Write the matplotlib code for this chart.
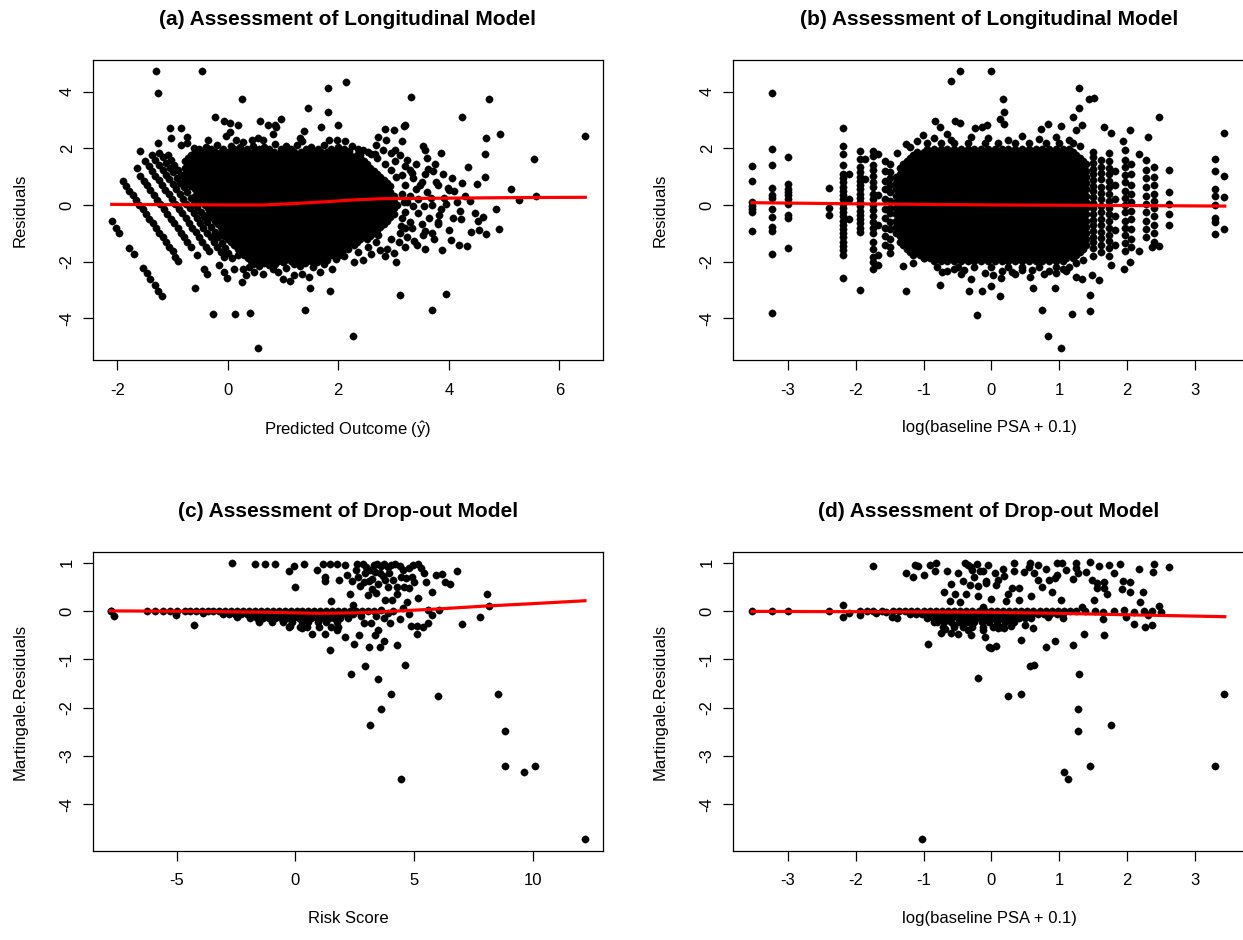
import numpy as np
import matplotlib.pyplot as plt

plt.rcParams['font.family'] = ['Liberation Sans', 'DejaVu Sans']
plt.rcParams['mathtext.fontset'] = 'custom'
plt.rcParams['mathtext.rm'] = 'Liberation Sans'
plt.rcParams['axes.unicode_minus'] = False

# ---------------- panel (a): residuals vs predicted outcome ----------------
a_grid_1 = [-0.78, -0.66, -0.54, -0.42, -0.30, -0.18, -0.06, 0.06, 0.18, 0.30, 0.42, 0.54, 0.66,
            0.78, 0.90, 1.02, 1.14, 1.26, 1.38, 1.50, 1.62, 1.74, 1.86, 1.98, 2.10, 2.22, 2.34,
            2.46, 2.58, 2.70, 2.82, 2.94, 3.06]
a_grid_2 = [-0.72, -0.60, -0.48, -0.36, -0.24, -0.12, 0.00, 0.12, 0.24, 0.36, 0.48, 0.60, 0.72,
            0.84, 0.96, 1.08, 1.20, 1.32, 1.44, 1.56, 1.68, 1.80, 1.92, 2.04, 2.16, 2.28, 2.40,
            2.52, 2.64, 2.76, 2.88, 3.00]
# dense core rows: (residual, grid, x from, x to)
a_core = [
    (1.87, 2, -0.60, 2.16), (1.76, 1, -0.66, 2.34), (1.65, 2, -0.72, 2.40), (1.54, 1, -0.78, 2.46),
    (1.43, 2, -0.72, 2.52), (1.32, 1, -0.78, 2.58), (1.21, 2, -0.72, 2.64), (1.10, 1, -0.78, 2.70),
    (0.99, 2, -0.72, 2.76), (0.88, 1, -0.78, 2.82), (0.77, 2, -0.72, 2.88), (0.66, 1, -0.66, 2.94),
    (0.55, 2, -0.60, 2.88), (0.44, 1, -0.54, 2.94), (0.33, 2, -0.60, 3.00), (0.22, 1, -0.54, 2.94),
    (0.11, 2, -0.48, 3.00), (0.00, 1, -0.42, 3.06), (-0.11, 2, -0.36, 3.00), (-0.22, 1, -0.30, 2.94),
    (-0.33, 2, -0.36, 3.00), (-0.44, 1, -0.30, 2.94), (-0.55, 2, -0.24, 2.88), (-0.66, 1, -0.18, 2.82),
    (-0.77, 2, -0.12, 2.76), (-0.88, 1, -0.06, 2.70), (-0.99, 2, -0.12, 2.64), (-1.10, 1, -0.06, 2.58),
    (-1.21, 2, 0.00, 2.52), (-1.32, 1, 0.06, 2.34), (-1.43, 2, 0.12, 2.28), (-1.54, 1, 0.18, 2.10),
    (-1.65, 2, 0.24, 2.04), (-1.76, 1, 0.18, 1.86), (-1.87, 2, 0.36, 1.68), (-1.98, 1, 0.42, 1.50),
]
# diagonal streaks at low predicted values
a_streaks = [
    (-2.10, -0.57), (-2.03, -0.81), (-1.96, -0.99), (-1.78, -1.53), (-1.70, -1.75), (-1.53, -2.22),
    (-1.47, -2.39), (-1.40, -2.60), (-1.32, -2.83), (-1.26, -3.03), (-1.19, -3.22),
    (-1.90, 0.84), (-1.84, 0.67), (-1.78, 0.51), (-1.72, 0.34), (-1.66, 0.18), (-1.60, 0.01),
    (-1.54, -0.15), (-1.48, -0.32), (-1.42, -0.48), (-1.36, -0.65), (-1.30, -0.81), (-1.24, -0.98),
    (-1.18, -1.15), (-1.12, -1.31), (-1.06, -1.48), (-1.00, -1.64), (-0.95, -1.85), (-0.90, -1.99),
    (-1.58, 1.03), (-1.52, 0.86), (-1.46, 0.69), (-1.40, 0.53), (-1.34, 0.36), (-1.28, 0.19),
    (-1.22, 0.03), (-1.16, -0.14), (-1.10, -0.31), (-1.03, -0.48), (-0.97, -0.64), (-0.91, -0.81),
    (-0.85, -0.98), (-0.79, -1.15), (-0.73, -1.31), (-0.67, -1.48), (-0.56, -1.78), (-0.43, -2.25),
    (-0.37, -2.43),
    (-1.49, 1.54), (-1.43, 1.37), (-1.37, 1.21), (-1.31, 1.04), (-1.25, 0.87), (-1.19, 0.70),
    (-1.13, 0.54), (-1.07, 0.37), (-1.01, 0.20), (-0.95, 0.04), (-0.89, -0.13), (-0.82, -0.30),
    (-0.76, -0.47), (-0.70, -0.63), (-0.64, -0.80), (-0.58, -0.97), (-0.52, -1.14), (-0.46, -1.30),
    (-0.40, -1.47), (-0.34, -1.64), (-0.16, -2.13), (-0.07, -2.37), (-0.01, -2.58),
    (-1.37, 1.76), (-1.31, 1.59), (-1.24, 1.42), (-1.18, 1.25), (-1.12, 1.07), (-1.06, 0.90),
    (-0.99, 0.73), (-0.93, 0.56), (-0.87, 0.39), (-0.81, 0.22), (-0.75, 0.05), (-0.69, -0.12),
    (-0.62, -0.30), (-0.56, -0.47), (-0.50, -0.64), (-0.44, -0.81), (-0.38, -0.98), (-0.31, -1.15),
    (-0.25, -1.32), (-0.19, -1.49), (-0.13, -1.66), (-0.07, -1.84), (0.11, -2.25), (0.25, -2.72),
    (-1.24, 1.85), (-1.18, 1.68), (-1.11, 1.50), (-1.05, 1.32), (-0.99, 1.15), (-0.92, 0.97),
    (-0.86, 0.79), (-0.80, 0.62), (-0.73, 0.44), (-0.67, 0.26), (-0.61, 0.09), (-0.55, -0.09),
    (-0.49, -0.26), (-0.43, -0.44), (-0.37, -0.61), (-0.30, -0.79), (-0.24, -0.97), (-0.18, -1.15),
    (-0.11, -1.33), (-0.05, -1.51), (0.01, -1.69), (0.08, -1.87),
    (-1.09, 1.76), (-1.03, 1.59), (-0.97, 1.42), (-0.91, 1.25), (-0.84, 1.07), (-0.78, 0.90),
]
a_scatter = [
    (-1.30, 4.74), (-0.47, 4.72), (-1.27, 3.96), (0.25, 3.76), (1.82, 4.15), (2.14, 4.36), (1.46, 3.42),
    (1.82, 3.28), (1.99, 2.82), (-0.24, 3.12), (-0.06, 2.98), (0.04, 2.90), (0.19, 2.84), (0.59, 2.97),
    (0.72, 2.82), (0.97, 3.05), (0.86, 2.82), (-1.04, 2.73), (-0.85, 2.73), (-1.26, 2.19), (-1.58, 1.91),
    (-1.64, 1.29), (-1.03, 2.36), (-0.73, 2.41), (-0.61, 2.00), (-0.84, 2.11), (-0.73, 2.20),
    (-0.04, 2.42), (0.04, 2.58), (0.27, 2.22), (0.44, 2.28), (0.63, 2.28), (0.81, 2.51), (0.87, 2.75),
    (1.31, 2.35), (1.38, 2.61), (1.68, 2.76), (1.83, 2.28), (1.98, 2.28), (2.13, 2.25), (2.35, 1.99),
    (2.53, 1.87), (2.66, 1.80), (2.68, 2.11), (2.71, 2.40),
    (-0.52, 1.98), (-0.30, 1.98), (-0.08, 1.98), (0.12, 1.98), (0.34, 1.98), (0.57, 1.98), (0.75, 1.98),
    (0.96, 1.98), (1.14, 1.98), (1.41, 1.98), (1.63, 1.98), (1.87, 1.98), (2.11, 1.98), (2.40, 1.76),
    (-0.40, 2.05), (-0.20, 2.12), (0.05, 2.08), (0.22, 2.05), (0.46, 2.10), (0.66, 2.04), (0.85, 2.15),
    (1.05, 2.08), (1.25, 2.12), (1.50, 2.06), (1.75, 2.12), (2.00, 2.05), (2.25, 2.10), (2.45, 1.95),
    (1.35, 2.25), (0.55, 2.38), (0.15, 2.30), (-0.35, 2.30), (2.20, 1.92),
    (0.45, -2.08), (0.65, -2.05), (0.85, -2.10), (1.00, -2.02), (1.20, -2.08), (1.40, -2.04),
    (1.62, -2.00), (1.80, -1.95), (1.95, -1.90), (2.10, -1.80), (0.38, -2.18),
    (-0.26, -3.87), (0.13, -3.84), (0.41, -3.81), (0.55, -5.04), (1.39, -3.71), (2.26, -4.63),
    (-0.59, -2.93), (1.49, -2.93), (1.85, -3.05), (0.81, -2.25), (0.90, -2.37), (0.99, -2.60),
    (1.13, -2.70), (1.20, -2.49), (1.34, -2.43), (1.47, -2.55), (1.67, -2.37), (1.88, -2.25),
    (2.02, -1.78), (2.17, -1.54), (2.29, -2.01), (2.35, -1.66), (2.53, -1.48), (2.68, -1.30),
    (2.71, -1.07), (2.56, -0.96), (0.63, -2.43), (0.47, -2.37), (0.33, -2.49), (0.27, -2.25),
    (0.56, -2.15), (0.74, -2.12), (1.05, -2.22), (1.30, -2.15), (1.55, -2.20), (1.75, -2.10),
    (3.32, 3.81), (4.73, 3.76), (4.24, 3.10), (6.47, 2.45), (4.93, 2.52), (4.68, 2.38), (4.65, 1.80),
    (5.55, 1.64), (3.21, 2.84), (3.19, 2.78), (2.85, 2.70), (3.01, 2.65), (2.86, 2.31), (3.15, 2.25),
    (3.03, 1.95), (3.54, 2.08), (3.57, 1.94), (3.02, 1.54), (3.21, 1.37), (3.30, 1.22), (3.33, 1.13),
    (3.63, 1.26), (3.71, 1.20), (3.56, 1.08), (3.51, 0.81), (3.48, 0.72), (3.76, 0.81), (3.80, 0.72),
    (3.98, 0.60), (4.24, 0.77), (4.51, 0.73), (4.66, 1.00), (4.10, 0.48), (4.30, 0.33), (4.38, 0.15),
    (5.12, 0.58), (5.27, 0.16), (5.58, 0.31), (4.86, -0.13), (4.07, -0.45), (4.22, -0.49),
    (4.47, -0.30), (4.53, -0.57), (4.61, -0.44), (4.54, -0.88), (4.68, -1.03), (4.91, -0.84),
    (3.83, -0.34), (3.81, -0.60), (3.80, -0.68), (3.52, -0.69), (3.57, -0.91), (3.54, -1.07),
    (3.34, -0.81), (3.37, -1.27), (3.42, -1.42), (3.56, -1.54), (3.74, -1.20), (3.88, -1.58),
    (4.04, -1.23), (4.19, -1.40), (4.33, -1.45), (3.05, -2.01), (3.11, -3.19), (3.94, -3.14),
    (3.70, -3.73), (2.89, -1.54), (3.13, -0.75), (3.20, -0.81), (3.25, 0.11), (3.68, 0.23),
    (3.92, 0.23), (4.01, 0.52), (3.12, 1.75), (3.25, 1.60), (3.40, 1.45), (3.15, 1.05), (3.35, 0.95),
    (3.20, 0.70), (3.40, 0.55), (3.15, 0.40), (3.30, 0.30), (3.45, 0.20), (3.18, 0.10), (3.35, -0.05),
    (3.55, -0.05), (3.20, -0.25), (3.45, -0.30), (3.65, -0.45), (3.15, -0.45), (3.30, -0.60),
    (3.12, -1.00), (3.25, -1.15), (3.10, -1.30), (3.20, -1.50), (3.00, -1.70), (2.85, -1.80),
    (2.75, -1.60), (2.95, -1.20), (2.60, -1.75), (2.45, -1.95), (3.60, 0.45), (3.70, 0.00),
    (3.85, -0.15), (3.95, 0.05), (4.15, 0.10), (4.20, -0.20), (3.75, 1.45), (3.90, 1.10), (4.05, 0.95),
    (3.60, 1.65), (3.85, 1.85), (4.35, 1.35), (4.40, -0.95), (4.00, -0.90), (3.70, -1.00), (2.95, 1.85),
    (2.80, 1.95), (2.60, 1.80), (2.70, 1.65), (2.85, 1.45), (2.95, 1.25), (3.05, 1.00),
]
a_fit_x = [-2.10, -1.00, 0.00, 0.66, 1.20, 1.75, 2.30, 2.77, 4.00, 5.20, 6.47]
a_fit_y = [0.02, 0.01, 0.00, 0.00, 0.05, 0.11, 0.18, 0.22, 0.24, 0.26, 0.27]

# ---------------- panel (b): residuals vs log baseline PSA ----------------
b_grid_1 = [-1.40, -1.30, -1.20, -1.10, -1.00, -0.90, -0.80, -0.70, -0.60, -0.50, -0.40, -0.30, -0.20,
            -0.10, 0.00, 0.10, 0.20, 0.30, 0.40, 0.50, 0.60, 0.70, 0.80, 0.90, 1.00, 1.10, 1.20,
            1.30, 1.40]
b_grid_2 = [-1.35, -1.25, -1.15, -1.05, -0.95, -0.85, -0.75, -0.65, -0.55, -0.45, -0.35, -0.25, -0.15,
            -0.05, 0.05, 0.15, 0.25, 0.35, 0.45, 0.55, 0.65, 0.75, 0.85, 0.95, 1.05, 1.15, 1.25, 1.35]
b_core = [
    (1.98, 2, -0.95, 1.15), (1.87, 1, -1.10, 1.20), (1.76, 2, -1.15, 1.25), (1.65, 1, -1.20, 1.30),
    (1.54, 2, -1.25, 1.35), (1.43, 1, -1.30, 1.40), (1.32, 2, -1.35, 1.35), (1.21, 1, -1.30, 1.40),
    (1.10, 2, -1.35, 1.35), (0.99, 1, -1.40, 1.40), (0.88, 2, -1.35, 1.35), (0.77, 1, -1.40, 1.40),
    (0.66, 2, -1.35, 1.35), (0.55, 1, -1.40, 1.40), (0.44, 2, -1.35, 1.35), (0.33, 1, -1.40, 1.40),
    (0.22, 2, -1.35, 1.35), (0.11, 1, -1.40, 1.40), (0.00, 2, -1.35, 1.35), (-0.11, 1, -1.40, 1.40),
    (-0.22, 2, -1.35, 1.35), (-0.33, 1, -1.40, 1.40), (-0.44, 2, -1.35, 1.35), (-0.55, 1, -1.40, 1.40),
    (-0.66, 2, -1.35, 1.35), (-0.77, 1, -1.40, 1.40), (-0.88, 2, -1.35, 1.35), (-0.99, 1, -1.40, 1.40),
    (-1.10, 2, -1.35, 1.35), (-1.21, 1, -1.30, 1.40), (-1.32, 2, -1.35, 1.35), (-1.43, 1, -1.30, 1.40),
    (-1.54, 2, -1.25, 1.35), (-1.65, 1, -1.20, 1.30), (-1.76, 2, -1.15, 1.25), (-1.87, 1, -1.00, 1.20),
    (-1.98, 2, -0.85, 1.05),
]
# vertical strips at the discrete baseline values: (x, residuals)
b_strips = [
    (-3.53, [1.37, 0.84, 0.11, -0.04, -0.15, -0.25, -0.93]),
    (-3.23, [3.96, 1.97, 1.41, 0.60, 0.36, 0.24, -0.13, -0.43, -0.78, -0.93, -1.73, -3.82]),
    (-3.00, [1.68, 0.75, 0.58, 0.46, 0.34, 0.22, 0.05, -0.34, -0.46, -1.51]),
    (-2.39, [0.61, -0.11, -0.34]),
    (-2.19, [2.73, 2.08, 1.80, 1.41, 1.10, 0.95, 0.80, 0.65, 0.50, 0.35, 0.20, 0.05, -0.10, -0.25,
             -0.40, -0.55, -0.70, -0.85, -1.00, -1.15, -1.30, -1.45, -1.60, -1.78, -2.58]),
    (-2.10, [1.10, 0.22, -0.48]),
    (-1.94, [1.92, 1.63, 1.33, 1.15, 1.00, 0.85, 0.70, 0.55, 0.40, 0.25, 0.10, -0.05, -0.20, -0.35,
             -0.50, -0.65, -0.80, -0.96, -3.02]),
    (-1.87, [1.63, 0.93]),
    (-1.75, [1.90, 1.74, 1.41, 1.22, 1.02, 0.80, 0.62, 0.40, 0.22, 0.00, -0.18, -0.40, -0.60, -0.80,
             -1.00, -1.30, -1.55, -1.85, -2.02, -2.25]),
    (-1.67, [1.81, 0.34, -0.72, -1.78, -2.13]),
    (-1.57, [1.55, 1.20, 0.85, 0.55, 0.20, -0.15, -0.45, -0.80, -1.10, -1.40]),
    (-1.50, [1.45, 1.15, 0.95, 0.70, 0.45, 0.15, -0.10, -0.30, -0.60, -0.85, -1.20, -1.50, -1.70]),
    (1.50, [1.88, 1.68, 1.48, 1.28, 1.08, 0.88, 0.68, 0.48, 0.28, 0.08, -0.12, -0.32, -0.52, -0.72,
            -0.92, -1.12, -1.32, -1.52, -1.79]),
    (1.62, [1.60, 1.35, 1.12, 0.90, 0.65, 0.42, 0.20, -0.02, -0.25, -0.48, -0.70, -0.95, -1.18,
            -1.42, -1.65]),
    (1.74, [1.85, 1.55, 1.32, 1.08, 0.85, 0.62, 0.38, 0.15, -0.10, -0.32, -0.56, -0.80, -1.05,
            -1.28, -1.52, -1.80]),
    (1.82, [1.20, 0.70, 0.20, -0.40, -0.90, -1.40]),
    (1.97, [1.95, 1.60, 1.35, 1.05, 0.80, 0.50, 0.25, 0.00, -0.25, -0.55, -0.80, -1.05, -1.35, -1.62]),
    (2.06, [1.45, 1.10, 0.70, 0.40, 0.10, -0.20, -0.50, -0.85, -1.20, -1.50]),
    (2.28, [1.60, 1.25, 0.95, 0.62, 0.30, 0.05, -0.25, -0.55, -0.85, -1.15]),
    (2.40, [1.35, 1.00, 0.70, 0.40, 0.15, -0.10, -0.40, -0.70, -1.00, -1.30]),
    (2.62, [1.22, 0.46, 0.05, -0.31, -0.70]),
    (3.30, [1.64, 1.20, 0.58, 0.31, 0.00, -0.45, -0.60, -1.04]),
    (3.43, [2.53, 1.02, 0.29, -0.86]),
]
b_scatter = [
    (-0.01, 4.73), (1.29, 4.15), (1.44, 3.76), (1.51, 3.79), (0.17, 3.76), (0.19, 3.29), (0.12, 3.05),
    (0.19, 2.85), (1.29, 3.43), (1.20, 3.11), (1.34, 2.82), (1.25, 2.64), (0.83, 2.85), (0.73, 2.70),
    (1.03, 2.79), (-0.24, 2.72), (-0.14, 2.75), (-0.06, 2.82), (-0.47, 4.72), (-0.60, 4.37),
    (-0.83, 2.97), (-0.54, 2.97), (-0.47, 2.88), (-0.76, 2.76), (-1.01, 2.46), (-0.65, 2.52),
    (-1.26, 2.17), (-1.39, 1.84), (2.47, 3.10), (2.31, 2.41), (2.18, 1.81), (2.04, 2.65), (1.94, 2.25),
    (1.66, 2.76), (1.77, 2.56),
    (-0.95, 2.20), (-0.75, 2.20), (-0.55, 2.20), (-0.35, 2.20), (-0.10, 2.20), (0.10, 2.20),
    (0.35, 2.20), (0.55, 2.20), (0.80, 2.20), (1.00, 2.20), (1.20, 2.20),
    (-1.20, 2.05), (-0.85, 2.35), (-0.60, 2.30), (-0.30, 2.40), (-0.05, 2.35), (0.25, 2.30),
    (0.45, 2.42), (0.70, 2.33), (0.95, 2.40), (1.15, 2.30), (1.30, 2.10), (-1.10, 2.25),
    (-0.80, -2.20), (-0.50, -2.20), (-0.25, -2.20), (0.00, -2.20), (0.25, -2.20), (0.45, -2.20),
    (0.70, -2.20), (0.95, -2.20), (1.15, -2.20),
    (-1.15, -2.05), (-0.65, -2.35), (-0.40, -2.30), (-0.10, -2.40), (0.15, -2.35), (0.35, -2.45),
    (0.60, -2.30), (0.85, -2.35), (1.05, -2.25), (1.25, -2.05), (1.35, -1.95),
    (-1.26, -3.05), (-0.76, -2.84), (-0.33, -3.05), (-1.30, -2.17), (-0.99, -1.89), (-0.73, -2.37),
    (-0.14, -3.05), (-0.01, -2.88), (0.12, -3.20), (-0.21, -3.88), (0.62, -2.93), (0.75, -3.70),
    (0.94, -2.92), (0.84, -4.64), (1.02, -5.04), (1.19, -3.84), (1.45, -3.17), (1.45, -3.74),
    (1.59, -2.66), (1.49, -2.48), (1.25, -2.54), (1.34, -2.60), (0.78, -2.45), (0.57, -2.54),
    (0.31, -2.37), (0.14, -2.58), (0.02, -2.48), (1.96, -2.25), (2.04, -2.01), (1.77, -2.13),
    (2.18, -1.62), (2.37, -1.48), (2.47, -1.45), (-0.45, -2.45), (-0.30, -2.60), (-0.55, -2.25),
    (0.45, -2.30), (1.10, -2.35), (0.95, -2.40),
]
b_fit_x = [-3.53, -2.00, -1.00, 0.00, 1.00, 2.00, 3.44]
b_fit_y = [0.08, 0.04, 0.02, 0.00, -0.01, -0.02, -0.04]

# ---------------- panel (c): martingale residuals vs risk score ----------------
c_band = [
    (0.00, [-4.45, -4.20, -3.95, -3.70, -3.45, -3.20, -2.95, -2.70, -2.45, -2.20, -1.95, -1.70, -1.45,
            -1.20, -0.95, -0.70, -0.45, -0.20, 0.05, 0.30, 0.55, 0.80, 1.05, 1.30, 1.55, 1.80, 2.05,
            2.30, 2.55, 2.80, 3.05, 3.30]),
    (-0.07, [-3.05, -2.80, -2.55, -2.30, -2.05, -1.80, -1.55, -1.30, -1.05, -0.80, -0.55, -0.30,
             -0.05, 0.20, 0.45, 0.70, 0.95, 1.20, 1.45, 1.70, 1.95, 2.20, 2.45]),
    (-0.15, [-1.90, -1.62, -1.35, -1.10, -0.85, -0.60, -0.35, -0.10, 0.15, 0.40, 0.65, 0.90, 1.15,
             1.40, 1.65, 1.90, 2.20]),
    (-0.24, [-1.55, -1.00, -0.50, -0.15, 0.30, 0.55, 0.95, 1.30, 1.75]),
    (-0.33, [-0.25, 0.20, 0.50, 1.00, 1.50, 1.80]),
]
c_scatter = [
    (-7.79, 0.00), (-7.75, 0.00), (-7.65, -0.10), (-6.26, 0.00), (-5.91, 0.00), (-5.56, 0.00),
    (-5.28, 0.00), (-4.97, 0.00), (-4.64, 0.00), (-5.02, -0.08), (-4.29, -0.29), (-2.46, -0.12),
    (-3.90, -0.05),
    (-2.69, 1.00), (-1.69, 0.98), (-1.27, 0.98), (-0.85, 0.98), (-0.28, 0.83), (-0.07, 0.93),
    (0.35, 0.97), (-0.02, 0.49), (0.92, 0.84), (1.15, 0.97), (1.48, 0.97), (1.26, 0.70), (1.26, 0.61),
    (1.77, 0.97), (2.10, 0.95), (2.60, 0.98), (1.83, 0.65), (2.18, 0.74), (2.32, 0.35), (2.74, 0.51),
    (3.06, 0.33), (2.42, 0.12), (1.52, 0.21), (3.31, 0.94), (4.22, 0.97), (5.17, 0.97), (6.80, 0.83),
    (5.92, 0.75), (6.20, 0.77), (6.30, 0.59), (5.42, 0.79), (5.52, 0.59), (5.75, 0.40), (4.65, 0.68),
    (4.93, 0.71), (5.00, 0.59), (4.79, 0.47), (5.18, 0.26), (4.72, 0.19), (4.30, 0.50), (4.30, 0.35),
    (4.09, 0.23), (3.80, 0.23), (3.80, 0.63), (3.56, 0.78), (3.41, 0.37), (3.24, 0.66),
    (2.85, 0.97), (3.00, 0.90), (3.15, 0.85), (3.45, 0.97), (3.60, 0.92), (3.75, 0.97), (3.90, 0.90),
    (4.05, 0.95), (4.40, 0.92), (4.55, 0.85), (2.95, 0.78), (3.35, 0.80), (3.70, 0.72), (3.95, 0.78),
    (4.10, 0.65), (4.45, 0.70), (3.10, 0.62), (3.50, 0.55), (3.90, 0.50), (4.60, 0.50), (2.55, 0.85),
    (2.40, 0.62), (2.90, 0.60), (3.25, 0.45), (2.65, 0.70), (5.30, 0.88), (4.80, 0.88), (4.95, 0.95),
    (8.06, 0.35), (8.17, 0.11), (7.79, -0.13), (7.01, -0.28), (6.06, 0.02), (5.77, -0.08),
    (5.59, 0.02), (5.60, -0.26), (5.39, -0.34), (5.14, -0.32), (4.86, -0.31), (5.11, -0.48),
    (4.41, -0.16), (4.55, 0.05), (4.79, -0.06), (4.27, -0.70), (3.73, -0.62), (3.59, -0.74),
    (3.38, -0.49), (3.48, -0.39), (3.17, -0.25), (0.70, -0.48), (1.24, -0.48), (1.45, -0.80),
    (2.11, -0.54), (2.46, -0.69), (2.35, -1.30), (2.93, -1.14), (3.10, -0.75), (-0.24, -0.32),
    (0.28, -0.36), (1.77, -0.39), (2.67, -0.50), (3.60, 0.02), (3.90, -0.05), (4.10, 0.00),
    (3.75, -0.15), (4.00, -0.25), (3.40, -0.10), (2.90, -0.25), (2.75, -0.10), (6.50, 0.55),
    (4.62, -1.12), (3.49, -1.40), (8.55, -1.72), (6.01, -1.77), (4.03, -1.72), (3.62, -2.03),
    (3.15, -2.36), (8.85, -2.49), (8.86, -3.21), (9.62, -3.33), (10.10, -3.22), (4.44, -3.47),
    (12.21, -4.73),
]
c_fit_x = [-7.80, -4.00, -1.00, 1.00, 2.50, 4.00, 6.00, 8.00, 10.00, 12.21]
c_fit_y = [0.00, -0.01, -0.03, -0.05, -0.04, -0.01, 0.04, 0.10, 0.15, 0.21]

# ---------------- panel (d): martingale residuals vs log baseline PSA ----------------
d_band = [
    (0.00, [-1.45, -1.36, -1.27, -1.18, -1.09, -1.00, -0.91, -0.82, -0.73, -0.64, -0.55, -0.46, -0.37,
            -0.28, -0.19, -0.10, -0.01, 0.08, 0.17, 0.26, 0.35, 0.44, 0.53, 0.62, 0.71, 0.80, 0.89,
            0.98, 1.07, 1.16, 1.25]),
    (-0.07, [-1.20, -1.11, -1.02, -0.93, -0.84, -0.75, -0.66, -0.57, -0.48, -0.39, -0.30, -0.21,
             -0.12, -0.03, 0.06, 0.15, 0.24, 0.33, 0.42, 0.51, 0.60, 0.69, 0.78, 0.87, 0.96, 1.05]),
    (-0.15, [-0.95, -0.86, -0.77, -0.68, -0.59, -0.50, -0.41, -0.32, -0.23, -0.14, -0.05, 0.04, 0.13,
             0.22, 0.31, 0.40, 0.49, 0.58]),
    (-0.24, [-0.80, -0.70, -0.60, -0.48, -0.36, -0.25, -0.14, -0.03, 0.08, 0.20, 0.33]),
    (-0.33, [-0.72, -0.55, -0.42, -0.28, -0.12, 0.02, 0.14]),
]
d_scatter = [
    (-3.53, 0.00), (-3.23, 0.00), (-3.00, 0.00), (-2.40, 0.00), (-2.19, 0.12), (-2.19, -0.12),
    (-2.10, -0.05), (-1.94, 0.00), (-1.94, -0.08), (-1.84, 0.00), (-1.75, 0.00), (-1.70, -0.05),
    (-1.62, 0.00), (-1.55, -0.02), (-1.47, -0.12), (-1.39, -0.15),
    (1.38, 0.00), (1.52, 0.00), (1.65, -0.03), (1.80, 0.00), (1.95, 0.02), (2.10, -0.02), (2.25, 0.00),
    (2.36, 0.00), (2.50, -0.02),
    (-1.75, 0.93), (-1.26, 0.78), (-1.16, 0.71), (-1.12, 0.96), (-1.08, 0.92), (-0.99, 0.75),
    (-0.91, 0.94), (-0.83, 0.83), (-0.81, 0.99), (-0.65, 0.83), (-0.49, 0.78), (-0.39, 1.00),
    (-0.34, 0.95), (-0.28, 0.85), (-0.22, 0.98), (-0.17, 0.82), (-0.42, 0.61), (-0.31, 0.54),
    (-0.20, 0.52), (-0.20, 0.30), (-0.37, 0.35), (-0.54, 0.35), (-0.61, 0.21), (-0.47, 0.19),
    (-0.13, 0.09), (-0.08, 0.61), (-0.25, 0.70), (-0.30, 0.91),
    (0.34, 0.99), (0.57, 0.99), (0.68, 0.95), (0.97, 0.99), (1.04, 0.99), (1.25, 0.99), (1.25, 0.88),
    (1.46, 1.01), (1.59, 0.92), (1.73, 0.95), (1.90, 0.98), (2.40, 0.97), (2.38, 0.80), (2.62, 0.90),
    (2.18, 0.87), (-0.13, 0.83), (0.17, 0.86), (0.19, 0.72), (0.34, 0.82), (0.48, 0.81), (0.63, 0.78),
    (0.68, 0.64), (0.80, 0.86), (0.85, 0.64), (0.94, 0.68), (0.97, 0.74), (1.20, 0.66), (1.27, 0.79),
    (1.49, 0.65), (1.55, 0.58), (1.55, 0.47), (1.66, 0.60), (1.66, 0.47), (1.70, 0.36), (1.94, 0.62),
    (2.04, 0.59), (1.92, 0.46), (2.04, 0.40), (2.24, 0.39), (2.19, 0.19), (2.47, 0.11), (0.07, 0.54),
    (0.09, 0.64), (-0.08, 0.57), (0.31, 0.48), (0.40, 0.47), (0.59, 0.30), (0.41, 0.22), (0.22, 0.20),
    (1.02, 0.22), (1.51, 0.22), (1.34, 0.08), (-0.05, 0.95), (0.05, 0.78), (0.55, 0.90), (0.75, 0.50),
    (1.10, 0.85), (1.40, 0.80), (0.25, 0.35), (0.90, 0.40), (-0.60, 0.55), (-0.70, 0.40), (0.00, 0.25),
    (1.80, 0.78),
    (-0.94, -0.69), (-0.20, -1.39), (-1.03, -4.73), (-0.84, -0.22), (-0.69, -0.38), (-0.59, -0.46),
    (-0.49, -0.48), (-0.35, -0.39), (-0.12, -0.39), (-0.09, -0.53), (-0.04, -0.74), (-0.42, -0.25),
    (0.00, -0.77), (0.07, -0.72), (0.09, -0.36), (0.19, -0.36), (0.29, -0.32), (0.31, -0.24),
    (0.44, -0.60), (0.50, -0.29), (0.61, -0.36), (0.80, -0.74), (0.94, -0.63), (1.20, -0.70),
    (1.37, -0.48), (1.66, -0.50), (2.10, -0.27), (2.26, -0.34), (2.36, -0.30), (1.98, -0.13),
    (2.31, -0.08), (1.64, -0.16), (1.05, -0.15), (0.83, -0.12), (-0.75, -0.45), (-0.30, -0.50),
    (-0.55, -0.30),
    (0.57, -1.14), (0.63, -1.12), (1.29, -1.30), (0.24, -1.77), (0.44, -1.72), (1.27, -2.04),
    (1.77, -2.36), (1.28, -2.49), (3.43, -1.72), (1.07, -3.33), (1.13, -3.47), (1.45, -3.21),
    (3.30, -3.22),
]
d_fit_x = [-3.53, -1.00, 0.00, 1.00, 2.00, 3.44]
d_fit_y = [-0.01, -0.02, -0.03, -0.05, -0.08, -0.12]


def collect(core=(), grids=None, rows=(), strips=(), pts=()):
    xs, ys = [], []
    for y, g, lo, hi in core:
        for x in grids[g]:
            if lo - 1e-9 <= x <= hi + 1e-9:
                xs.append(x)
                ys.append(y)
    for y, xl in rows:
        xs += list(xl)
        ys += [y] * len(xl)
    for x, yl in strips:
        xs += [x] * len(yl)
        ys += list(yl)
    for x, y in pts:
        xs.append(x)
        ys.append(y)
    return np.array(xs), np.array(ys)


def draw(ax, x, y, fx, fy, xlim, ylim, xt, yt, title, xlab, ylab):
    ax.plot(x, y, 'o', ls='none', ms=5.3, color='black', mec='black', mew=0.2)
    ax.plot(fx, fy, color='#ff0000', lw=2.3)
    ax.set_xlim(xlim)
    ax.set_ylim(ylim)
    ax.set_xticks(xt)
    ax.set_yticks(yt)
    ax.tick_params(direction='out', length=7.2, width=0.9, labelsize=12, colors='black')
    ax.tick_params(axis='x', pad=9)
    ax.tick_params(axis='y', pad=6, labelrotation=90)
    for lab in ax.get_yticklabels():
        lab.set_verticalalignment('center')
    for s in ax.spines.values():
        s.set_linewidth(0.9)
        s.set_color('black')
    ax.set_title(title, fontsize=15, fontweight='bold', pad=25)
    ax.set_xlabel(xlab, fontsize=12, labelpad=16)
    ax.set_ylabel(ylab, fontsize=12, labelpad=23)


fig = plt.figure(figsize=(12.43, 9.40), dpi=100)
ax_a = fig.add_axes([0.0748, 0.6170, 0.4103, 0.3191])
ax_b = fig.add_axes([0.5897, 0.6170, 0.4120, 0.3191])
ax_c = fig.add_axes([0.0748, 0.0947, 0.4103, 0.3181])
ax_d = fig.add_axes([0.5897, 0.0947, 0.4120, 0.3181])

xa, ya = collect(core=a_core, grids={1: a_grid_1, 2: a_grid_2}, pts=a_streaks + a_scatter)
xb, yb = collect(core=b_core, grids={1: b_grid_1, 2: b_grid_2}, strips=b_strips, pts=b_scatter)
xc, yc = collect(rows=c_band, pts=c_scatter)
xd, yd = collect(rows=d_band, pts=d_scatter)

draw(ax_a, xa, ya, a_fit_x, a_fit_y, (-2.44, 6.79), (-5.48, 5.12), [-2, 0, 2, 4, 6],
     [-4, -2, 0, 2, 4], '(a) Assessment of Longitudinal Model',
     r'Predicted Outcome ($\hat{\mathrm{y}}$)', 'Residuals')
draw(ax_b, xb, yb, b_fit_x, b_fit_y, (-3.81, 3.74), (-5.48, 5.12), [-3, -2, -1, 0, 1, 2, 3],
     [-4, -2, 0, 2, 4], '(b) Assessment of Longitudinal Model',
     'log(baseline PSA + 0.1)', 'Residuals')
draw(ax_c, xc, yc, c_fit_x, c_fit_y, (-8.53, 12.97), (-4.97, 1.22), [-5, 0, 5, 10],
     [-4, -3, -2, -1, 0, 1], '(c) Assessment of Drop-out Model',
     'Risk Score', 'Martingale.Residuals')
draw(ax_d, xd, yd, d_fit_x, d_fit_y, (-3.81, 3.74), (-4.97, 1.22), [-3, -2, -1, 0, 1, 2, 3],
     [-4, -3, -2, -1, 0, 1], '(d) Assessment of Drop-out Model',
     'log(baseline PSA + 0.1)', 'Martingale.Residuals')

fig.savefig('out.png', dpi=100)
